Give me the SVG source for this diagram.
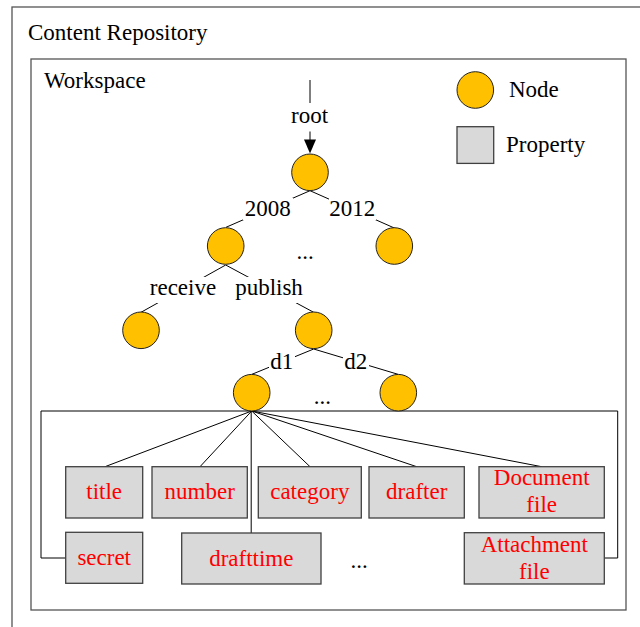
<svg xmlns="http://www.w3.org/2000/svg" width="640" height="627" viewBox="0 0 640 627">
<style>
text{font-family:"Liberation Serif","Times New Roman",serif;font-size:23px;fill:#000}
.lbl{text-anchor:middle}
.ptxt{text-anchor:middle;fill:#ff0000}
.node{fill:#ffc000;stroke:#222;stroke-width:1}
.prop{fill:#d9d9d9;stroke:#404040;stroke-width:1.3}
.frame{fill:none;stroke:#555;stroke-width:1.3}
.edge{stroke:#000;stroke-width:1;fill:none}
.mask{fill:#fff}
</style>
<rect fill="#fff" x="0" y="0" width="640" height="627"/>
<g id="content-repository">
<rect class="frame" x="12" y="7" width="640" height="640"/>
<text x="28" y="40">Content Repository</text>
</g>
<g id="workspace">
<rect class="frame" x="31" y="59" width="595" height="551"/>
<text x="44" y="88">Workspace</text>
</g>
<g id="legend">
<circle class="node" cx="475.3" cy="90" r="18.3"/>
<text x="509" y="97">Node</text>
<rect class="prop" x="457" y="126.7" width="36.7" height="36.7"/>
<text x="506" y="152">Property</text>
</g>
<g id="connectors">
<line class="edge" x1="310" y1="80" x2="310" y2="103"/>
<line class="edge" x1="310" y1="131.5" x2="310" y2="141"/>
<polygon points="304,139.5 316,139.5 310,153.5" fill="#000"/>
<line class="edge" x1="310" y1="190.7" x2="226" y2="227.3"/>
<line class="edge" x1="310" y1="190.7" x2="395" y2="228.3"/>
<line class="edge" x1="225.7" y1="265" x2="141" y2="312.3"/>
<line class="edge" x1="225.7" y1="265" x2="313.7" y2="312.3"/>
<line class="edge" x1="313.7" y1="349" x2="251.7" y2="374.4"/>
<line class="edge" x1="313.7" y1="349" x2="398.3" y2="374.4"/>
<rect class="mask" x="243" y="198" width="50" height="22"/>
<rect class="mask" x="329" y="198" width="47" height="22"/>
<rect class="mask" x="148" y="277" width="72" height="26"/>
<rect class="mask" x="233" y="277" width="72" height="26"/>
<rect class="mask" x="269" y="352" width="26" height="22"/>
<rect class="mask" x="343" y="352" width="26" height="22"/>
<text class="lbl" x="267.7" y="216">2008</text>
<text class="lbl" x="352.3" y="216">2012</text>
<text class="lbl" x="183" y="295">receive</text>
<text class="lbl" x="269" y="295">publish</text>
<text class="lbl" x="281.8" y="369.3">d1</text>
<text class="lbl" x="355.8" y="369.3">d2</text>
<text class="lbl" x="309.5" y="123.3">root</text>
<path class="edge" d="M65.7,558 H41 V411 H617.7 V558 H604.3" stroke="#333"/>
<line class="edge" x1="251.7" y1="411" x2="105" y2="466.7"/>
<line class="edge" x1="251.7" y1="411" x2="200" y2="466.7"/>
<line class="edge" x1="251.7" y1="411" x2="310" y2="466.7"/>
<line class="edge" x1="251.7" y1="411" x2="416.7" y2="466.7"/>
<line class="edge" x1="251.7" y1="411" x2="541.7" y2="466.7"/>
<line class="edge" x1="251.2" y1="411" x2="251.2" y2="533"/>
</g>
<g id="node-root"><circle class="node" cx="310" cy="172.3" r="18.3"/></g>
<g id="node-2008"><circle class="node" cx="225.7" cy="246" r="18.3"/></g>
<g id="node-2012"><circle class="node" cx="394.3" cy="246" r="18.3"/></g>
<g id="node-receive"><circle class="node" cx="141" cy="330.3" r="18.3"/></g>
<g id="node-publish"><circle class="node" cx="313.7" cy="330.3" r="18.3"/></g>
<g id="node-d1"><circle class="node" cx="251.7" cy="392.7" r="18.3"/></g>
<g id="node-d2"><circle class="node" cx="398.3" cy="392.7" r="18.3"/></g>
<g id="ellipses">
<text class="lbl" x="305" y="259">...</text>
<text class="lbl" x="322.3" y="404">...</text>
<text class="lbl" x="359" y="568">...</text>
</g>
<g id="prop-title"><rect class="prop" x="65.7" y="466.7" width="77" height="51.3"/><text class="ptxt" x="104.2" y="499">title</text></g>
<g id="prop-number"><rect class="prop" x="152" y="466.7" width="95.3" height="51.3"/><text class="ptxt" x="199.7" y="499">number</text></g>
<g id="prop-category"><rect class="prop" x="258.3" y="466.7" width="103" height="51.3"/><text class="ptxt" x="309.8" y="499">category</text></g>
<g id="prop-drafter"><rect class="prop" x="369" y="466.7" width="95.3" height="51.3"/><text class="ptxt" x="416.7" y="499">drafter</text></g>
<g id="prop-document"><rect class="prop" x="479" y="466.7" width="125.3" height="51.3"/><text class="ptxt" x="541.7" y="485">Document</text><text class="ptxt" x="541.7" y="511.7">file</text></g>
<g id="prop-secret"><rect class="prop" x="65.7" y="532.3" width="77" height="51"/><text class="ptxt" x="104.2" y="565">secret</text></g>
<g id="prop-drafttime"><rect class="prop" x="181.7" y="533" width="139.3" height="51"/><text class="ptxt" x="251.3" y="565.7">drafttime</text></g>
<g id="prop-attachment"><rect class="prop" x="464.3" y="532.7" width="140" height="51.3"/><text class="ptxt" x="534.3" y="551.7">Attachment</text><text class="ptxt" x="534.3" y="579">file</text></g>
</svg>
